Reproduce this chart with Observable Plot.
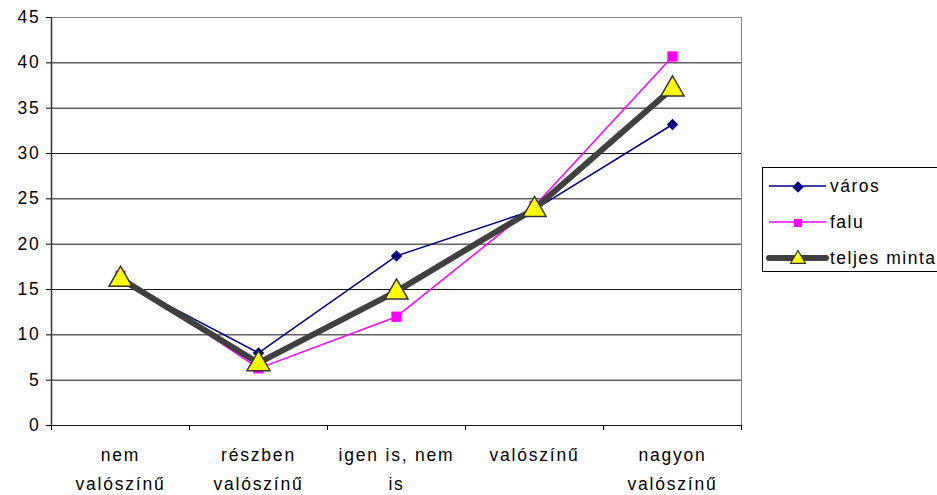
<!DOCTYPE html>
<html>
<head>
<meta charset="utf-8">
<script src="https://cdn.jsdelivr.net/npm/d3@7"></script>
<script src="https://cdn.jsdelivr.net/npm/@observablehq/plot@0.6"></script>
<style>
  html, body { margin: 0; padding: 0; background: #fff; }
  #wrap { position: relative; width: 937px; height: 495px; overflow: hidden; font-family: "Liberation Sans", Arial, sans-serif; }
  #legend { position: absolute; left: 762px; top: 167px; width: 185px; height: 105px; border: 1px solid #000; background: #fff; box-sizing: border-box; }
  .row { position: absolute; left: 0; height: 20px; display: flex; align-items: center; }
  .row span { font-size: 17.5px; letter-spacing: 1.5px; color: #000; margin-left: 4px; }
</style>
</head>
<body>
<div id="wrap"></div>
<script>
const categories = ["nem valószínű", "részben valószínű", "igen is, nem is", "valószínű", "nagyon valószínű"];
const tickLabels = ["nem\nvalószínű", "részben\nvalószínű", "igen is, nem\nis", "valószínű", "nagyon\nvalószínű"];
const yTicks = [0, 5, 10, 15, 20, 25, 30, 35, 40, 45];
const seriesNames = ["város", "falu", "teljes minta"];
const varos = [16.0, 8.0, 18.7, 23.8, 33.2];
const falu = [16.5, 6.3, 12.0, 24.2, 40.7];
const teljes = [16.2, 6.9, 14.8, 23.9, 37.2];

const colors = {"város": "#000080", "falu": "#ff00ff", "teljes minta": "#404040"};
const rows = [];
[varos, falu, teljes].forEach((vals, s) => {
  vals.forEach((v, i) => rows.push({series: seriesNames[s], i, cat: categories[i], value: v}));
});
const bySeries = name => rows.filter(r => r.series === name);
const boundaries = d3.range(-0.5, categories.length, 1);

const chart = Plot.plot({
  width: 937,
  height: 495,
  marginLeft: 51,
  marginRight: 196,
  marginTop: 17,
  marginBottom: 70,
  style: {fontFamily: "'Liberation Sans', Arial, sans-serif", fontSize: "17.5px", color: "#000", background: "#fff", letterSpacing: "1.8px"},
  x: {type: "linear", domain: [-0.5, categories.length - 0.5], ticks: boundaries, tickFormat: () => "", tickSize: 5, label: null},
  y: {domain: [0, 45], ticks: yTicks, tickSize: 5, tickPadding: 6, label: null, line: true},
  marks: [
    Plot.ruleY(yTicks, {stroke: d => d === 45 ? "#888" : "#111", strokeWidth: 1}),
    Plot.ruleX([categories.length - 0.5], {stroke: "#888"}),
    Plot.ruleX([-0.5], {stroke: "#333", strokeWidth: 1.5}),
    Plot.text(categories, {x: (d, i) => i, y: () => 0, text: (d, i) => tickLabels[i], lineAnchor: "top", dy: 15, lineHeight: 1.66, fontSize: 17.5}),
    Plot.line(bySeries("város"), {x: "i", y: "value", stroke: colors["város"], strokeWidth: 1.5}),
    Plot.dot(bySeries("város"), {x: "i", y: "value", symbol: "diamond2", r: 4.2, fill: colors["város"], stroke: colors["város"]}),
    Plot.line(bySeries("falu"), {x: "i", y: "value", stroke: colors["falu"], strokeWidth: 1.5}),
    Plot.dot(bySeries("falu"), {x: "i", y: "value", symbol: "square", r: 5.8, fill: colors["falu"]}),
    Plot.line(bySeries("teljes minta"), {x: "i", y: "value", stroke: colors["teljes minta"], strokeWidth: 6}),
    Plot.dot(bySeries("teljes minta"), {x: "i", y: "value", symbol: "triangle", r: 8.6, fill: "#ffff00", stroke: "#333", strokeWidth: 1.5, dy: 1})
  ]
});
const wrap = document.getElementById("wrap");
wrap.appendChild(chart);

// legend
const legend = document.createElement("div");
legend.id = "legend";
const legendRows = [
  {name: "város", top: 8, symbol: "diamond2", r: 4.2, fill: colors["város"], stroke: colors["város"], sw: 1.5, lw: 1.5},
  {name: "falu", top: 44, symbol: "square", r: 4.5, fill: colors["falu"], stroke: "none", sw: 0, lw: 1.5},
  {name: "teljes minta", top: 80, symbol: "triangle", r: 5.5, fill: "#ffff00", stroke: "#333", sw: 1.2, lw: 6}
];
legendRows.forEach(L => {
  const row = document.createElement("div");
  row.className = "row";
  row.style.top = L.top + "px";
  const svg = d3.create("svg").attr("width", 66).attr("height", 20);
  svg.append("line").attr("x1", 6).attr("x2", 63).attr("y1", 10).attr("y2", 10)
    .attr("stroke", colors[L.name]).attr("stroke-width", L.lw).attr("stroke-linecap", L.lw > 3 ? "round" : "butt");
  const sym = {diamond2: d3.symbolDiamond2, square: d3.symbolSquare, triangle: d3.symbolTriangle}[L.symbol];
  svg.append("path").attr("d", d3.symbol(sym, Math.PI * L.r * L.r)())
    .attr("transform", "translate(35,11)").attr("fill", L.fill).attr("stroke", L.stroke).attr("stroke-width", L.sw);
  row.appendChild(svg.node());
  const t = document.createElement("span");
  t.textContent = L.name;
  t.style.marginLeft = "1px";
  row.appendChild(t);
  legend.appendChild(row);
});
wrap.appendChild(legend);
</script>
</body>
</html>
